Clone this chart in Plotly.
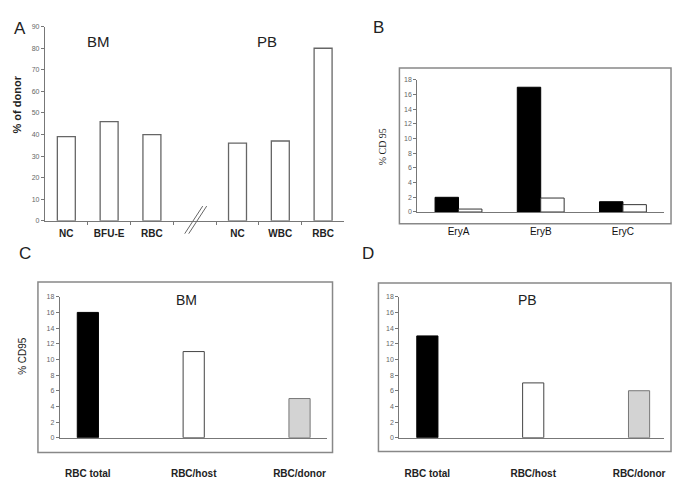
import plotly.graph_objects as go

W, H = 689, 490

# ---- data ----
a_pos = [0, 1, 2, 4, 5, 6]
a_labels = ["NC", "BFU-E", "RBC", "NC", "WBC", "RBC"]
a_values = [39, 46, 40, 36, 37, 80]

b_cats = [0, 1, 2]
b_labels = ["EryA", "EryB", "EryC"]
b_black = [2.0, 17.0, 1.4]
b_white = [0.4, 1.9, 1.0]

cd_pos = [0, 1, 2]
cd_labels = ["RBC total", "RBC/host", "RBC/donor"]
c_values = [16, 11, 5]
d_values = [13, 7, 6]
cd_colors = ["#000000", "#ffffff", "#d3d3d3"]

FONT = "Liberation Sans, Arial, sans-serif"


def px(x):
    return x / W


def py(y):
    return 1 - y / H


fig = go.Figure()

# Panel A
fig.add_trace(go.Bar(x=a_pos, y=a_values, width=0.42, marker=dict(color="white", line=dict(color="#666", width=1.3)),
                     xaxis="x", yaxis="y", showlegend=False))
# Panel B
fig.add_trace(go.Bar(x=b_cats, y=b_black, width=0.285, offset=-0.285,
                     marker=dict(color="black", line=dict(color="black", width=1)),
                     xaxis="x2", yaxis="y2", showlegend=False))
fig.add_trace(go.Bar(x=b_cats, y=b_white, width=0.285, offset=0,
                     marker=dict(color="white", line=dict(color="#333", width=1)),
                     xaxis="x2", yaxis="y2", showlegend=False))
# Panel C
fig.add_trace(go.Bar(x=cd_pos, y=c_values, width=0.2,
                     marker=dict(color=cd_colors, line=dict(color=["#000", "#444", "#777"], width=1)),
                     xaxis="x3", yaxis="y3", showlegend=False))
# Panel D
fig.add_trace(go.Bar(x=cd_pos, y=d_values, width=0.2,
                     marker=dict(color=cd_colors, line=dict(color=["#000", "#444", "#777"], width=1)),
                     xaxis="x4", yaxis="y4", showlegend=False))

ytick_font = dict(family=FONT, size=7, color="#666")
xtick_font = dict(family=FONT, size=10, color="#222", weight="bold")
axis_line = dict(showline=True, linecolor="#777", linewidth=1.2, showgrid=False, zeroline=False)

layout = dict(
    width=W, height=H, margin=dict(l=0, r=0, t=0, b=0),
    paper_bgcolor="white", plot_bgcolor="rgba(0,0,0,0)",
    barmode="overlay",
    xaxis=dict(domain=[px(45), px(345)], range=[-0.5, 6.5], tickvals=a_pos, ticktext=a_labels,
               ticks="", tickfont=xtick_font, ticklabelstandoff=3,
               minor=dict(tickvals=[0.5, 1.5, 2.5, 3.5, 4.5, 5.5], ticks="outside", ticklen=3, tickcolor="#777"),
               anchor="y", **axis_line),
    yaxis=dict(domain=[py(220), py(23)], range=[0, 90], dtick=10, ticks="outside", ticklen=3, tickcolor="#777",
               tickfont=ytick_font, anchor="x", **axis_line),
    xaxis2=dict(domain=[px(418), px(665)], range=[-0.5, 2.5], tickvals=b_cats, ticktext=b_labels,
                ticks="", tickfont=dict(family=FONT, size=10, color="#111"), ticklabelstandoff=10,
                anchor="y2", **axis_line),
    yaxis2=dict(domain=[py(211), py(77)], range=[0, 18], dtick=2, ticks="outside", ticklen=3, tickcolor="#777",
                tickfont=ytick_font, anchor="x2", **axis_line),
    xaxis3=dict(domain=[px(60), px(327)], range=[-0.264, 2.255], tickvals=cd_pos, ticktext=cd_labels,
                ticks="", tickfont=xtick_font, ticklabelstandoff=26, anchor="y3", **axis_line),
    yaxis3=dict(domain=[py(440), py(297)], range=[0, 18], dtick=2, ticks="outside", ticklen=3, tickcolor="#777",
                tickfont=ytick_font, anchor="x3", **axis_line),
    xaxis4=dict(domain=[px(400), px(665)], range=[-0.264, 2.236], tickvals=cd_pos, ticktext=cd_labels,
                ticks="", tickfont=xtick_font, ticklabelstandoff=26, anchor="y4", **axis_line),
    yaxis4=dict(domain=[py(440), py(297)], range=[0, 18], dtick=2, ticks="outside", ticklen=3, tickcolor="#777",
                tickfont=ytick_font, anchor="x4", **axis_line),
)
fig.update_layout(**layout)

# panel boxes and axis-break marks
shapes = []
for (x0, y0, x1, y1) in [(400, 65, 672, 223), (38, 282, 333, 455), (379, 283, 672, 454)]:
    shapes.append(dict(type="rect", xref="paper", yref="paper", x0=px(x0), y0=py(y0), x1=px(x1), y1=py(y1),
                       line=dict(color="#888", width=1.5)))
for dx in (0, 4):
    shapes.append(dict(type="line", xref="paper", yref="paper", x0=px(185 + dx), y0=py(233), x1=px(203 + dx),
                       y1=py(205), line=dict(color="#666", width=1)))
fig.update_layout(shapes=shapes)

ann = []


def text(x, y, s, size, color="#222", bold=False, angle=0, family=FONT):
    ann.append(dict(x=px(x), y=py(y), xref="paper", yref="paper", text=s, showarrow=False, textangle=angle,
                    font=dict(family=family, size=size, color=color, weight="bold" if bold else "normal"),
                    xanchor="center", yanchor="middle"))


text(20, 25, "A", 17)
text(379, 24, "B", 17)
text(25, 253, "C", 17)
text(369, 253, "D", 17)
text(99, 38, "BM", 15)
text(267, 38, "PB", 15)
text(187, 300, "BM", 14)
text(528, 300, "PB", 14)
text(17, 102, "% of donor", 11, bold=True, angle=-90)
text(383, 145, "% CD 95", 10, angle=-90, family="Liberation Serif, Times New Roman, serif")
text(23, 357, "% CD95", 10, angle=-90)
fig.update_layout(annotations=ann)

fig.write_html("out.html", config={"displayModeBar": False},
               post_script="document.body.style.margin='0';")
